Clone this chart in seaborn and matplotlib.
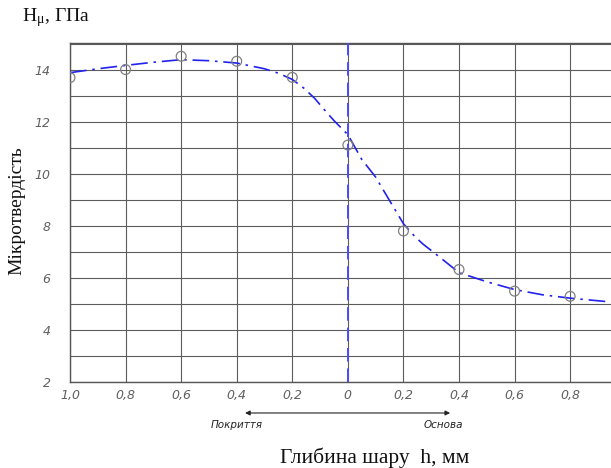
import matplotlib
matplotlib.use("Agg")
import matplotlib.pyplot as plt
import matplotlib.transforms as mtransforms
import seaborn as sns
import pandas as pd

# measured points (depth: negative = coating side, positive = base side)
point_x = [-1.0, -0.8, -0.6, -0.4, -0.2, 0.0, 0.2, 0.4, 0.6, 0.8]
point_y = [13.69, 14.0, 14.51, 14.32, 13.7, 11.1, 7.8, 6.32, 5.49, 5.29]

# fitted curve
curve_x = [-1.0, -0.9, -0.8, -0.7, -0.6, -0.5, -0.4, -0.3, -0.25, -0.2, -0.16, -0.12,
           -0.08, -0.05, 0.0, 0.05, 0.1, 0.15, 0.2, 0.24, 0.27, 0.33, 0.4, 0.5,
           0.6, 0.7, 0.8, 0.95]
curve_y = [13.88, 14.03, 14.16, 14.28, 14.38, 14.34, 14.25, 14.03, 13.86, 13.62, 13.3, 12.9,
           12.4, 12.04, 11.5, 10.55, 9.87, 8.97, 8.08, 7.6, 7.3, 6.8, 6.2, 5.85,
           5.55, 5.35, 5.22, 5.07]

x_ticks = [-1.0, -0.8, -0.6, -0.4, -0.2, 0.0, 0.2, 0.4, 0.6, 0.8]
x_tick_labels = ["1,0", "0,8", "0,6", "0,4", "0,2", "0", "0,2", "0,4", "0,6", "0,8"]
y_ticks = [2, 4, 6, 8, 10, 12, 14]
y_minor = [3, 5, 7, 9, 11, 13, 15]

title_text = "H$_{\\mathregular{\\mu}}$, ГПа"
y_label = "Мікротвердість"
x_label = "Глибина шару  h, мм"
coat_label = "Покриття"
base_label = "Основа"

sns.set_style("white")
plt.rcParams["mathtext.fontset"] = "stix"

fig = plt.figure(figsize=(6.11, 4.68), dpi=100)
ax = fig.add_axes([70 / 611, 1 - 382 / 468, 1 - 70 / 611, (382 - 43) / 468])

curve_df = pd.DataFrame({"x": curve_x, "y": curve_y})
pts_df = pd.DataFrame({"x": point_x, "y": point_y})

ax.set_xlim(-1.0, 0.947)
ax.set_ylim(2, 15.02)

ax.set_xticks(x_ticks)
ax.set_xticklabels(x_tick_labels)
ax.set_yticks(y_ticks)
ax.set_yticks(y_minor, minor=True)
ax.grid(True, which="both", color="#5c5c5c", linewidth=0.8)
ax.set_axisbelow(True)

for s in ["left", "bottom", "top"]:
    ax.spines[s].set_visible(True)
    ax.spines[s].set_color("#555555")
    ax.spines[s].set_linewidth(1.0)
ax.spines["right"].set_visible(False)

ax.axvline(0, color="#4a4aff", linewidth=1.4, dashes=(7, 3.5), zorder=3)

sns.lineplot(data=curve_df, x="x", y="y", ax=ax, color="#2222ee", linewidth=1.2,
             dashes=False, zorder=4, sort=False)
ax.lines[-1].set_dashes((10, 3.5, 1.5, 3.5))

sns.scatterplot(data=pts_df, x="x", y="y", ax=ax, s=50, facecolor="none",
                edgecolor="#808080", linewidth=0.9, zorder=5)

ax.set_xlabel("")
ax.set_ylabel("")
ax.tick_params(axis="both", which="both", length=0, colors="#606060")
ax.tick_params(axis="x", pad=5)
ax.tick_params(axis="y", pad=14)
for lab in ax.get_xticklabels() + ax.get_yticklabels():
    lab.set_fontstyle("italic")
    lab.set_fontsize(9)
    lab.set_family(["DejaVu Sans"])

trans = mtransforms.blended_transform_factory(ax.transData, ax.transAxes)
ax.annotate("", xy=(-0.37, -0.0914), xytext=(0.368, -0.0914), xycoords=trans,
            textcoords=trans, annotation_clip=False,
            arrowprops=dict(arrowstyle="<|-|>", color="#222222", lw=0.8,
                            mutation_scale=7, shrinkA=0, shrinkB=0))
ax.text(-0.40, -0.127, coat_label, transform=trans, ha="center", va="center",
        fontsize=7.5, fontstyle="italic", color="#222222",
        family=["Liberation Sans Narrow", "DejaVu Sans"])
ax.text(0.343, -0.127, base_label, transform=trans, ha="center", va="center",
        fontsize=7.5, fontstyle="italic", color="#222222",
        family=["Liberation Sans Narrow", "DejaVu Sans"])

fig.text(22 / 611, 1 - 18 / 468, title_text, ha="left", va="center", fontsize=14,
         family=["Liberation Serif", "DejaVu Serif"], color="#111111")
fig.text(17 / 611, 1 - 211 / 468, y_label, ha="center", va="center", rotation=90,
         fontsize=14, family=["Liberation Serif", "DejaVu Serif"], color="#111111")
fig.text(375 / 611, 1 - 458 / 468, x_label, ha="center", va="center", fontsize=15.5,
         family=["Liberation Serif", "DejaVu Serif"], color="#111111")

fig.savefig("out.png", dpi=100)
